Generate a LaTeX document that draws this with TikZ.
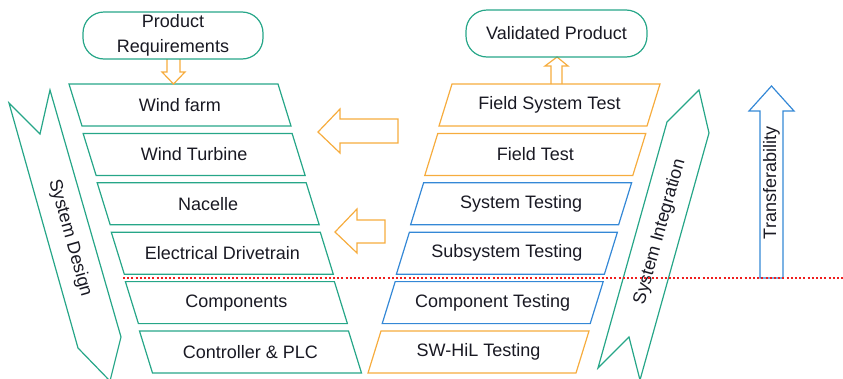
\documentclass[tikz,border=0pt]{standalone}
\usepackage{fontspec}
\setmainfont{Liberation Sans}
\definecolor{cgreen}{RGB}{38,166,136}
\definecolor{corange}{RGB}{246,172,62}
\definecolor{cblue}{RGB}{52,136,214}
\definecolor{ctext}{RGB}{25,25,35}
\definecolor{cred}{RGB}{240,30,30}
\begin{document}
\begin{tikzpicture}[x=1pt,y=-1pt, line join=miter,
  lbl/.style={font=\fontsize{18}{21}\selectfont, text=ctext, inner sep=0pt},
  gline/.style={draw=cgreen, line width=1.2pt},
  oline/.style={draw=corange, line width=1.2pt},
  bline/.style={draw=cblue, line width=1.2pt},
  rbox/.style={gline, rounded corners=21pt, minimum width=180pt, minimum height=47pt,
    inner sep=0pt, align=center, font=\fontsize{18}{25}\selectfont, text=ctext},
  reddots/.style={draw=cred, line width=1.6pt, dash pattern=on 2pt off 2.2pt}
]
\useasboundingbox (0,0) rectangle (843,378);

% left column (design)
\foreach \t [count=\i from 0] in {Wind farm,Wind Turbine,Nacelle,Electrical Drivetrain,Components,Controller \& PLC}{
  \pgfmathsetmacro\yt{84+49.4*\i}
  \pgfmathsetmacro\xl{69+14.1*\i}
  \draw[gline] (\xl,\yt) -- ++(209,0) -- ++(13,42) -- ++(-209,0) -- cycle;
  \node[lbl] (L\i) at (\xl+111,\yt+21) {\t};
}

% right column (testing)
\foreach \t/\c [count=\i from 0] in {Field System Test/oline,Field Test/oline,System Testing/bline,Subsystem Testing/bline,Component Testing/bline,SW-HiL Testing/oline}{
  \pgfmathsetmacro\yt{84+49.4*\i}
  \pgfmathsetmacro\xr{452-14.2*\i}
  \draw[\c] (\xr,\yt) -- ++(208,0) -- ++(-13,42) -- ++(-208,0) -- cycle;
  \node[lbl] (R\i) at (\xr+97.5,\yt+21) {\t};
}

% hollow arrows
\draw[oline] (167,59) -- (167,72) -- (162,72) -- (173.5,84) -- (185,72) -- (180,72) -- (180,59);
\draw[oline] (551,84) -- (551,66) -- (545,66) -- (557,57) -- (568,66) -- (562,66) -- (562,84);
\draw[oline] (398,119) -- (340,119) -- (340,109) -- (318,132) -- (340,153) -- (340,143) -- (398,143) -- cycle;
\draw[oline] (385,220) -- (357,220) -- (357,209) -- (335,232) -- (357,253) -- (357,243) -- (385,243) -- cycle;

% rounded boxes
\node[rbox] (PR) at (173,35.5) {Product\\Requirements};
\node[rbox, minimum width=181pt] (VP) at (556.5,33.5) {Validated Product};

% bands
\draw[gline] (9,103) -- (40,134) -- (50,90) -- (121,337) -- (110,381) -- (78,348) -- cycle;
\node[lbl, rotate=-74.3] (SD) at (70,238) {System Design};
\draw[gline] (667,122) -- (699,90) -- (709,133) -- (640,380) -- (629,337) -- (598,368) -- cycle;
\node[lbl, rotate=74.3] (SI) at (660,232) {System Integration};

% transferability
\draw[bline] (760,278) -- (760,111) -- (749,111) -- (771.5,86) -- (794,111) -- (783,111) -- (783,278) -- cycle;
\node[lbl, rotate=90] (TR) at (771.5,183) {Transferability};

% red dotted line
\coordinate (RS) at (123,278);
\coordinate (RE) at (843,278);
\draw[reddots] (RS) -- (RE);
\end{tikzpicture}
\end{document}
